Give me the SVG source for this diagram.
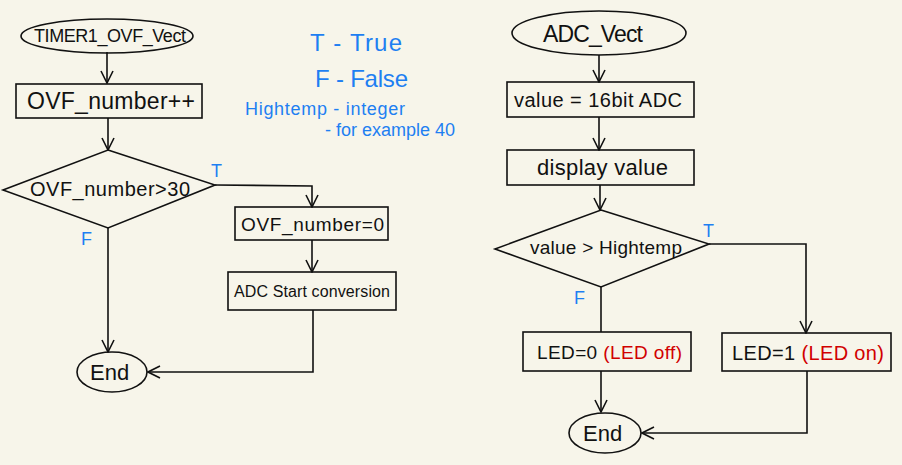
<svg xmlns="http://www.w3.org/2000/svg" width="902" height="465" viewBox="0 0 902 465">
<style>
.bg{fill:#f7f5ea}
.sh{fill:none;stroke:#111;stroke-width:1.6}
.ln{fill:none;stroke:#111;stroke-width:1.6}
.arr{marker-end:url(#ah)}
text{font-family:"Liberation Sans",Arial,sans-serif;fill:#111}
.b{fill:#1e7ff2}
.r{fill:#d10000}
</style>
<defs>
<marker id="ah" viewBox="0 0 14 14" refX="13" refY="7" markerWidth="14" markerHeight="14" markerUnits="userSpaceOnUse" orient="auto">
<path d="M1,1 L13,7 L1,13" fill="none" stroke="#111" stroke-width="1.6"/>
</marker>
</defs>
<rect class="bg" x="0" y="0" width="902" height="465"/>

<g id="connectors">
<line class="ln arr" x1="107" y1="52" x2="107" y2="83"/>
<line class="ln arr" x1="108" y1="118" x2="108" y2="150"/>
<polyline class="ln arr" points="215,185 312,186 312,207"/>
<line class="ln arr" x1="312" y1="240" x2="312" y2="272"/>
<polyline class="ln arr" points="108,228 108,352"/>
<polyline class="ln arr" points="313,310 313,372 148,372"/>

<line class="ln arr" x1="599" y1="55" x2="599" y2="82"/>
<line class="ln arr" x1="599" y1="117" x2="599" y2="150"/>
<line class="ln arr" x1="600" y1="185" x2="600" y2="210"/>
<polyline class="ln arr" points="709,244 806,244 806,333"/>
<line class="ln" x1="601" y1="287" x2="601" y2="332"/>
<line class="ln arr" x1="601" y1="371" x2="601" y2="412"/>
<polyline class="ln arr" points="807,371 807,433 642,433"/>
</g>

<g id="timer_start">
<ellipse class="sh" cx="107" cy="36" rx="86" ry="17"/>
<text x="34" y="42" font-size="18" textLength="152">TIMER1_OVF_Vect</text>
</g>
<g id="ovf_inc">
<rect class="sh" x="16" y="84" width="186" height="34"/>
<text x="27" y="109" font-size="23" textLength="168">OVF_number++</text>
</g>
<g id="ovf_check">
<polygon class="sh" points="108,150 215,185 108,228 3,190"/>
<text x="30" y="196" font-size="20" textLength="160">OVF_number&gt;30</text>
</g>
<g id="ovf_reset">
<rect class="sh" x="235" y="207" width="153" height="33"/>
<text x="241" y="231" font-size="19" textLength="143">OVF_number=0</text>
</g>
<g id="adc_start">
<rect class="sh" x="228" y="272" width="168" height="38"/>
<text x="234" y="297" font-size="16" textLength="156">ADC Start conversion</text>
</g>
<g id="end_left">
<ellipse class="sh" cx="112" cy="372" rx="35" ry="20"/>
<text x="90" y="380" font-size="22">End</text>
</g>

<g id="adc_vect">
<ellipse class="sh" cx="599" cy="33" rx="87" ry="22"/>
<text x="543" y="42" font-size="23" textLength="100">ADC_Vect</text>
</g>
<g id="value_set">
<rect class="sh" x="507" y="82" width="187" height="35"/>
<text x="514" y="107" font-size="20" textLength="168">value = 16bit ADC</text>
</g>
<g id="display_value">
<rect class="sh" x="507" y="150" width="187" height="35"/>
<text x="537" y="175" font-size="22" textLength="131">display value</text>
</g>
<g id="value_check">
<polygon class="sh" points="601,210 709,244 601,287 495,249"/>
<text x="530" y="254" font-size="19" textLength="152">value &gt; Hightemp</text>
</g>
<g id="led_off">
<rect class="sh" x="523" y="332" width="168" height="39"/>
<text x="537" y="359" font-size="19" textLength="145">LED=0 <tspan class="r">(LED off)</tspan></text>
</g>
<g id="led_on">
<rect class="sh" x="722" y="333" width="169" height="38"/>
<text x="732" y="360" font-size="20" textLength="152">LED=1 <tspan class="r">(LED on)</tspan></text>
</g>
<g id="end_right">
<ellipse class="sh" cx="605" cy="433" rx="36" ry="20"/>
<text x="583" y="441" font-size="22">End</text>
</g>

<g id="labels">
<text class="b" x="211" y="177" font-size="18">T</text>
<text class="b" x="81" y="245" font-size="18">F</text>
<text class="b" x="703" y="237" font-size="18">T</text>
<text class="b" x="574" y="304" font-size="18">F</text>
<text class="b" x="310" y="51" font-size="24" textLength="92">T - True</text>
<text class="b" x="315" y="87" font-size="24" textLength="93">F - False</text>
<text class="b" x="245" y="115" font-size="18" textLength="160">Hightemp - integer</text>
<text class="b" x="325" y="136" font-size="18" textLength="130">- for example 40</text>
</g>
</svg>
